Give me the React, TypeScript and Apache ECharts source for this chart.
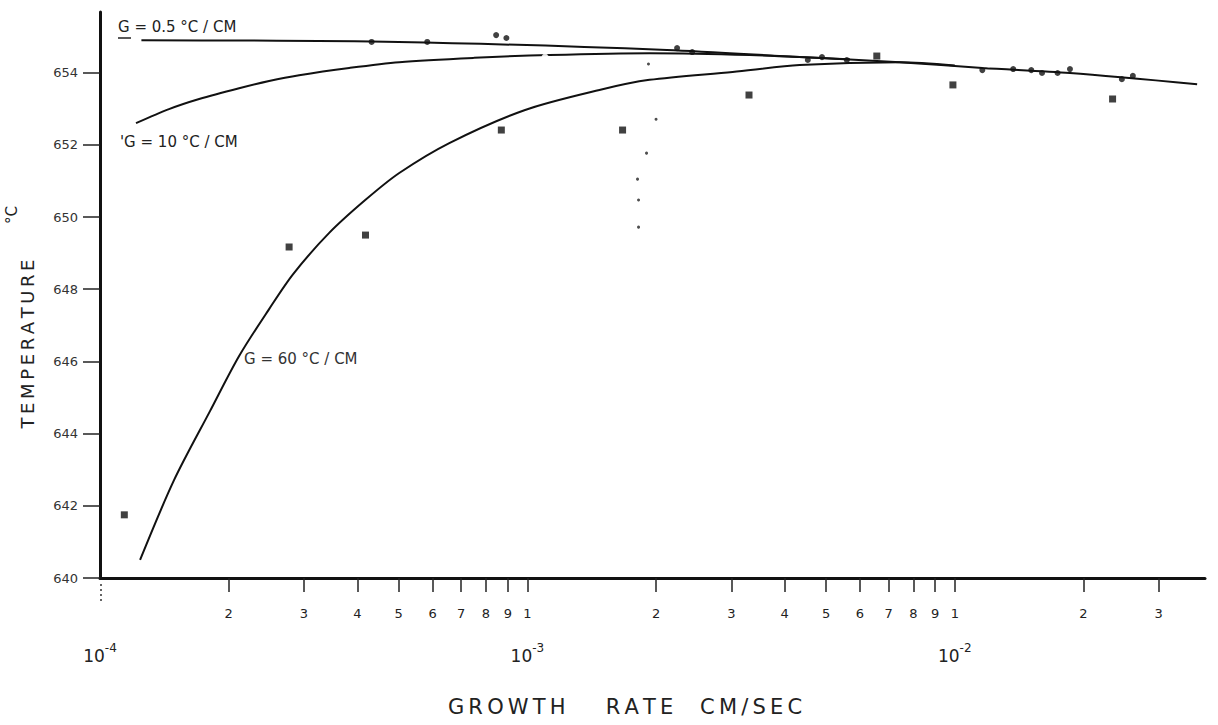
import React, { useEffect, useRef } from 'react';
import * as echarts from 'echarts';

// Growth rate (cm/sec) vs temperature (°C)
const G05_CURVE: [number, number][] = [
  [1.25e-4, 654.9], [5.0e-4, 654.85], [2.12e-3, 654.63], [4.34e-3, 654.43],
  [7.43e-3, 654.29], [1.16e-2, 654.13], [1.86e-2, 653.99], [3.69e-2, 653.68],
];
const G10_CURVE: [number, number][] = [
  [1.214e-4, 652.6], [1.45e-4, 652.99], [1.706e-4, 653.27], [2.116e-4, 653.57],
  [2.487e-4, 653.77], [2.924e-4, 653.93], [3.829e-4, 654.13], [5.014e-4, 654.29],
  [7.51e-4, 654.41], [1.126e-3, 654.49], [1.931e-3, 654.54], [3.311e-3, 654.49],
  [5.677e-3, 654.37],
];
const G60_CURVE: [number, number][] = [
  [1.241e-4, 640.5], [1.49e-4, 642.71], [1.81e-4, 644.63], [2.116e-4, 646.15],
  [2.487e-4, 647.45], [2.831e-4, 648.42], [3.438e-4, 649.56], [4.174e-4, 650.47],
  [5.014e-4, 651.22], [6.566e-4, 652.05], [9.84e-4, 652.96], [1.474e-3, 653.52],
  [1.931e-3, 653.8], [3.02e-3, 654.02], [4.335e-3, 654.21], [7.43e-3, 654.29],
  [1.0e-2, 654.2],
];
const G60_POINTS: [number, number][] = [
  [1.14e-4, 641.75], [2.77e-4, 649.17], [4.18e-4, 649.5], [8.69e-4, 652.41],
  [1.67e-3, 652.41], [3.3e-3, 653.38], [9.9e-3, 653.66], [2.34e-2, 653.27],
  [6.57e-3, 654.46],
];
const G05_POINTS: [number, number][] = [
  [4.32e-4, 654.85], [5.83e-4, 654.85], [8.45e-4, 655.04], [8.93e-4, 654.96],
  [2.24e-3, 654.68], [2.43e-3, 654.57], [4.53e-3, 654.35], [4.89e-3, 654.43],
  [5.59e-3, 654.35], [1.16e-2, 654.07], [1.37e-2, 654.1], [1.51e-2, 654.07],
  [1.6e-2, 653.99], [1.74e-2, 653.99], [1.86e-2, 654.1], [2.46e-2, 653.82],
  [2.61e-2, 653.91],
];
const G10_POINTS: [number, number][] = [
  [2.58e-4, 653.66], [5.9e-4, 654.04], [1.1e-3, 654.43], [1.83e-3, 653.55],
  [1.2e-2, 654.25],
];
const SMALL_DOTS: [number, number][] = [
  [1.92e-3, 654.24], [2.0e-3, 652.71], [1.9e-3, 651.77], [1.81e-3, 651.05],
  [1.82e-3, 650.47], [1.82e-3, 649.72],
];

const X_MIN = 1e-4;
const X_MAX = 0.0385;
const X_MINOR_TICKS = [
  2e-4, 3e-4, 4e-4, 5e-4, 6e-4, 7e-4, 8e-4, 9e-4,
  1e-3, 2e-3, 3e-3, 4e-3, 5e-3, 6e-3, 7e-3, 8e-3, 9e-3,
  1e-2, 2e-2, 3e-2,
];
const X_DECADES = [1e-4, 1e-3, 1e-2];
const Y_TICKS = [640, 642, 644, 646, 648, 650, 652, 654];
const Y_MIN = 640;
const Y_MAX = 655.68;

const FONT = 'DejaVu Sans';
const INK = '#111';
const TS = '\u2009';
const spaced = (s: string) => s.split('').join(TS);

export default function App() {
  const ref = useRef<HTMLDivElement>(null);
  useEffect(() => {
    const chart = echarts.init(ref.current!, null, { renderer: 'svg' });
    const lmin = Math.log10(X_MIN);
    const lmax = Math.log10(X_MAX);
    const minorLog = X_MINOR_TICKS.map((v) => Math.log10(v));
    const decadeLog = X_DECADES.map((v) => Math.log10(v));
    const mantissa = (v: number) => {
      const e = Math.floor(v + 1e-9);
      return String(Math.round(Math.pow(10, v - e)));
    };
    const lineSeries = (name: string, data: [number, number][]) => ({
      name,
      type: 'line',
      xAxisIndex: 0,
      yAxisIndex: 0,
      data,
      smooth: 0.3,
      showSymbol: false,
      symbol: 'none',
      lineStyle: { color: INK, width: 2 },
      z: 3,
    });
    chart.setOption({
      animation: false,
      backgroundColor: '#fff',
      grid: { left: 100, right: 13, top: 12, bottom: 147, containLabel: false },
      xAxis: [
        { type: 'log', logBase: 10, min: X_MIN, max: X_MAX, show: false },
        {
          type: 'value',
          position: 'bottom',
          min: lmin,
          max: lmax,
          axisLine: { show: true, onZero: false, lineStyle: { color: INK, width: 3 } },
          axisTick: {
            show: true,
            customValues: minorLog,
            length: 14,
            lineStyle: { color: '#222', width: 1.5 },
          },
          axisLabel: {
            show: true,
            customValues: minorLog,
            formatter: (v: number) => mantissa(v),
            margin: 29,
            fontSize: 13,
            fontFamily: FONT,
            color: '#222',
          },
          splitLine: { show: false },
        },
        {
          type: 'value',
          position: 'bottom',
          min: lmin,
          max: lmax,
          axisLine: { show: false },
          axisTick: { show: false },
          axisLabel: {
            show: true,
            customValues: decadeLog,
            formatter: (v: number) => `{b|10}{s|${Math.round(v)}}`,
            margin: 64,
            rich: {
              b: { fontSize: 17, fontFamily: FONT, color: '#222', lineHeight: 22, verticalAlign: 'bottom' },
              s: { fontSize: 12, fontFamily: FONT, color: '#222', lineHeight: 12, verticalAlign: 'top' },
            },
          },
          splitLine: { show: false },
        },
      ],
      yAxis: [
        {
          type: 'value',
          min: Y_MIN,
          max: Y_MAX,
          interval: 2,
          axisLine: { show: true, onZero: false, lineStyle: { color: INK, width: 3 } },
          axisTick: {
            show: true,
            customValues: Y_TICKS,
            length: 17,
            lineStyle: { color: '#222', width: 1.5 },
          },
          axisLabel: {
            show: true,
            customValues: Y_TICKS,
            margin: 22,
            fontSize: 13,
            fontFamily: FONT,
            color: '#333',
          },
          splitLine: { show: false },
        },
      ],
      series: [
        lineSeries('G = 0.5 °C/CM', G05_CURVE),
        lineSeries('G = 10 °C/CM', G10_CURVE),
        lineSeries('G = 60 °C/CM', G60_CURVE),
        {
          name: 'G60 data', type: 'scatter', xAxisIndex: 0, yAxisIndex: 0,
          data: G60_POINTS, symbol: 'rect', symbolSize: 7,
          itemStyle: { color: INK }, z: 4,
        },
        {
          name: 'G05 data', type: 'scatter', xAxisIndex: 0, yAxisIndex: 0,
          data: G05_POINTS, symbol: 'circle', symbolSize: 6,
          itemStyle: { color: INK }, z: 4,
        },
        {
          name: 'G10 data', type: 'scatter', xAxisIndex: 0, yAxisIndex: 0,
          data: G10_POINTS, symbol: 'emptyCircle', symbolSize: 5,
          itemStyle: { color: '#fff', borderColor: INK, borderWidth: 1.2 }, z: 4,
        },
        {
          name: 'dots', type: 'scatter', xAxisIndex: 0, yAxisIndex: 0,
          data: SMALL_DOTS, symbol: 'circle', symbolSize: 3,
          itemStyle: { color: '#222' }, z: 4,
        },
      ],
      graphic: [
        {
          type: 'text', left: 118, top: 19,
          style: { text: 'G = 0.5 °C / CM', fontSize: 15, fontFamily: FONT, fill: '#222' },
        },
        {
          type: 'line',
          shape: { x1: 118, y1: 38, x2: 131, y2: 38 },
          style: { stroke: '#222', lineWidth: 1.5 },
        },
        {
          type: 'text', left: 120, top: 134,
          style: { text: "'G = 10 °C / CM", fontSize: 15, fontFamily: FONT, fill: '#222' },
        },
        {
          type: 'text', left: 244, top: 351,
          style: { text: 'G = 60 °C / CM', fontSize: 15, fontFamily: FONT, fill: '#333' },
        },
        {
          type: 'text', x: 27, y: 344, rotation: Math.PI / 2,
          style: {
            text: spaced('TEMPERATURE'),
            fontSize: 18, fontFamily: FONT, fill: '#222', align: 'center', verticalAlign: 'middle',
          },
        },
        {
          type: 'text', x: 12, y: 215, rotation: Math.PI / 2,
          style: { text: '°C', fontSize: 15, fontFamily: FONT, fill: '#222', align: 'center', verticalAlign: 'middle' },
        },
        {
          type: 'text', x: 625, y: 707,
          style: {
            text: spaced('GROWTH') + '      ' + spaced('RATE') + '    ' + spaced('CM/SEC'),
            fontSize: 21, fontFamily: FONT, fill: '#222', align: 'center', verticalAlign: 'middle',
          },
        },
        {
          type: 'line',
          shape: { x1: 101, y1: 584, x2: 101, y2: 602 },
          style: { stroke: '#333', lineWidth: 1.5, lineDash: [2, 3] },
        },
      ],
    });
    return () => chart.dispose();
  }, []);
  return (
    <div
      ref={ref}
      style={{ position: 'fixed', left: 0, top: 0, width: 1218, height: 725, background: '#fff' }}
    />
  );
}
